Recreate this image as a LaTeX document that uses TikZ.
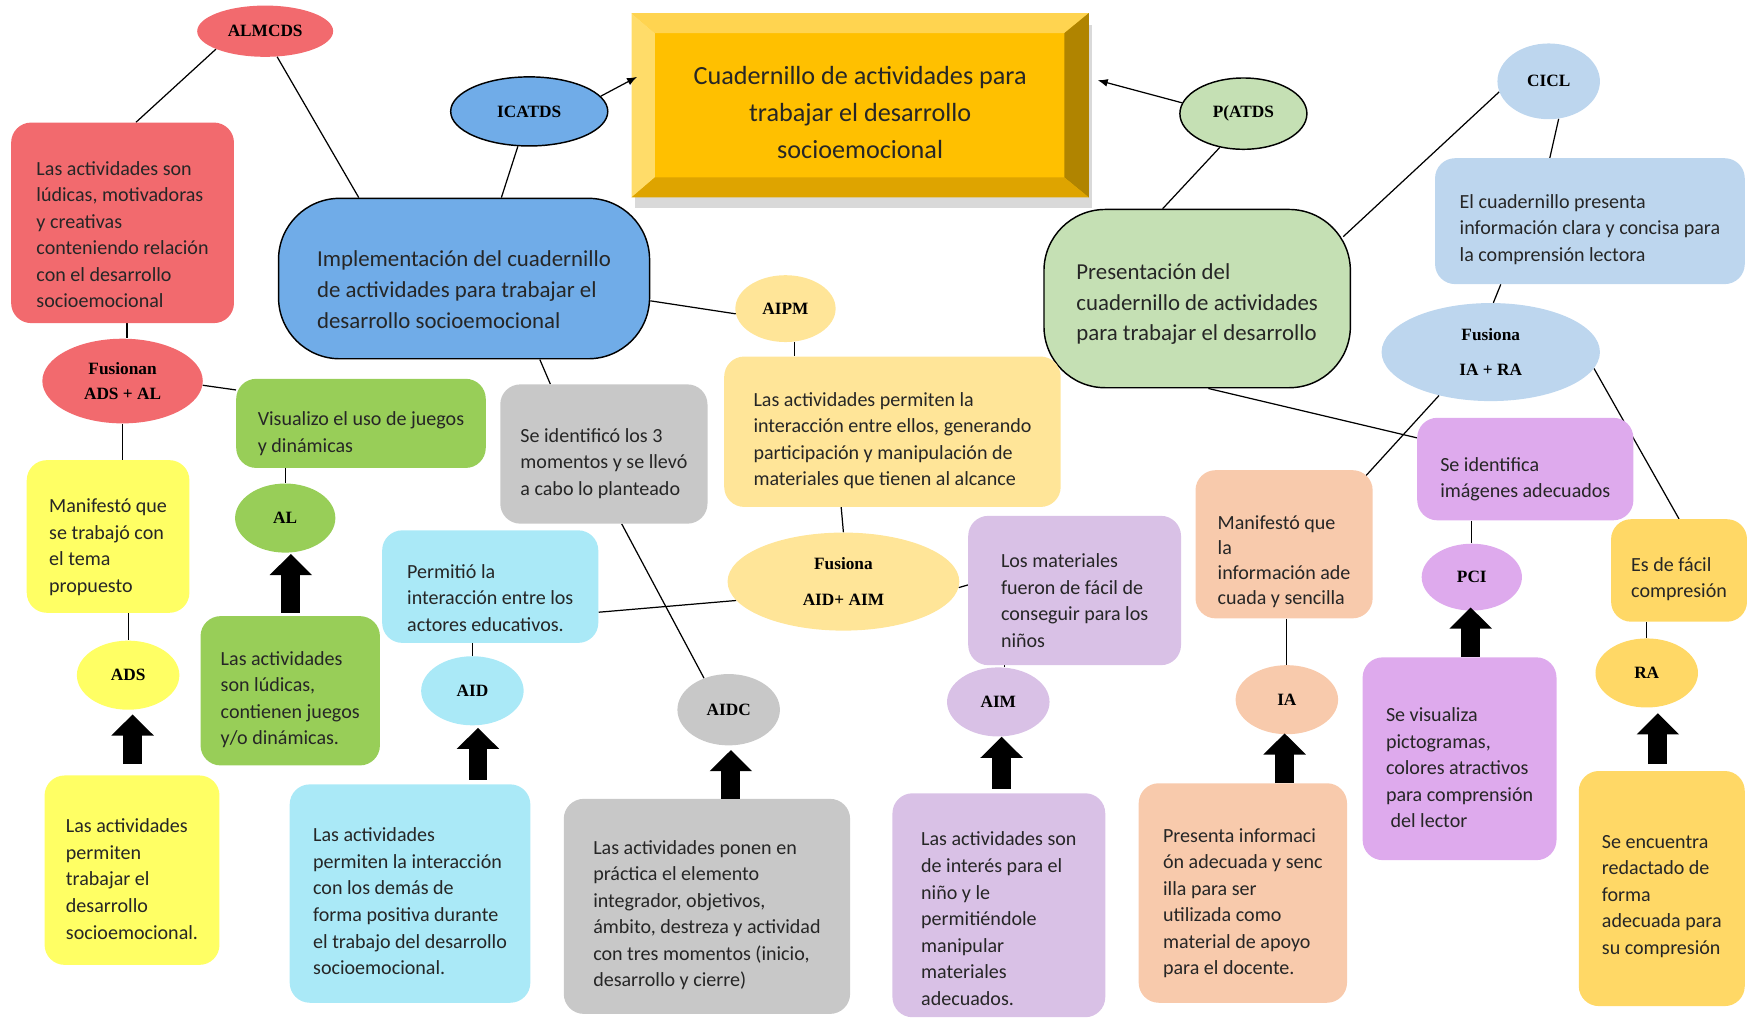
\documentclass[tikz,border=0pt]{standalone}
\usepackage{fontspec}
\setmainfont{Carlito}
\newfontfamily\lbl{Liberation Serif}
\usetikzlibrary{arrows.meta,shapes.geometric,shadows,calc}
\pgfdeclarelayer{bg}
\pgfsetlayers{bg,main}
\definecolor{cRed}{RGB}{242,106,110}
\definecolor{cBlue}{RGB}{112,172,232}
\definecolor{cGold}{RGB}{255,192,0}
\definecolor{bvTop}{RGB}{255,212,80}
\definecolor{bvLeft}{RGB}{255,220,105}
\definecolor{bvRight}{RGB}{176,132,0}
\definecolor{bvBot}{RGB}{222,164,0}
\definecolor{cGreenL}{RGB}{197,224,180}
\definecolor{cSky}{RGB}{189,214,238}
\definecolor{cCream}{RGB}{255,229,152}
\definecolor{cLime}{RGB}{152,206,88}
\definecolor{cGray}{RGB}{200,200,200}
\definecolor{cYel}{RGB}{255,255,100}
\definecolor{cCyan}{RGB}{170,233,247}
\definecolor{cLilac}{RGB}{217,193,230}
\definecolor{cPeach}{RGB}{248,202,172}
\definecolor{cViolet}{RGB}{222,170,237}
\definecolor{cSand}{RGB}{255,216,102}
\newcommand\tsu[1]{\rule{0pt}{#1pt}}
\begin{document}
\begin{tikzpicture}[x=1pt,y=-1pt,
  bx/.style={rectangle, rounded corners=18pt, inner sep=0pt, align=left,
    font=\fontsize{18}{23.8}\selectfont, text=black!85},
  term/.style={rectangle, rounded corners=55pt, draw=black, line width=1.3pt,
    inner sep=0pt, align=left, font=\fontsize{20.5}{27.5}\selectfont, text=black!85},
  ell/.style={ellipse, inner sep=0pt, align=center,
    font=\lbl\bfseries\fontsize{15.5}{18}\selectfont},
  con/.style={line width=1.1pt, black},
  pt/.style={con, -{Latex[length=9pt,width=7pt]}},
  blk/.style={line width=17pt, black, -{Triangle[length=19pt,width=37pt]}},
]
\useasboundingbox (0,0) rectangle (1568,915);

% main title box
\node[fill=cGold, minimum width=410, minimum height=165, inner sep=0pt, align=center,
  font=\fontsize{23.5}{33}\selectfont, text=black!85,
  drop shadow={shadow xshift=3pt, shadow yshift=-10pt, opacity=0.3}]
  (main) at (772,94.5) {\tsu{29.6}Cuadernillo de actividades para\\trabajar el desarrollo\\socioemocional};
\fill[bvTop] (main.north west) -- (main.north east) -- ($(main.north east)+(-22,18)$) -- ($(main.north west)+(21,18)$) -- cycle;
\fill[bvLeft] (main.north west) -- ($(main.north west)+(21,18)$) -- ($(main.south west)+(21,-18)$) -- (main.south west) -- cycle;
\fill[bvRight] (main.north east) -- (main.south east) -- ($(main.south east)+(-22,-18)$) -- ($(main.north east)+(-22,18)$) -- cycle;
\fill[bvBot] (main.south west) -- ($(main.south west)+(21,-18)$) -- ($(main.south east)+(-22,-18)$) -- (main.south east) -- cycle;

% big terminator boxes
\node[term, fill=cBlue, minimum width=333, minimum height=144] (blue) at (416.5,250)
  {\tsu{34.4}Implementación del cuadernillo\\de actividades para trabajar el\\desarrollo socioemocional};
\node[term, fill=cGreenL, minimum width=275, minimum height=160] (green) at (1074.5,268)
  {\tsu{24.4}Presentación del\\cuadernillo de actividades\\para trabajar el desarrollo};

% rounded boxes
\node[bx, fill=cRed, minimum width=200, minimum height=180] (red) at (110,200)
  {\tsu{33.5}Las actividades son\\lúdicas, motivadoras\\y creativas\\conteniendo relación\\con el desarrollo\\socioemocional};
\node[bx, fill=cSky, minimum width=278, minimum height=113] (lb) at (1427,198.5)
  {\tsu{27.5}El cuadernillo presenta\\información clara y concisa para\\la comprensión lectora};
\node[bx, fill=cCream, minimum width=302, minimum height=135] (cream) at (801,387.5)
  {\tsu{28.5}Las actividades permiten la\\interacción entre ellos, generando\\participación y manipulación de\\materiales que tienen al alcance};
\node[bx, fill=cLime, minimum width=224, minimum height=80] (vis) at (324,380)
  {\tsu{30.5}Visualizo el uso de juegos\\y dinámicas};
\node[bx, fill=cGray, minimum width=186, minimum height=125] (grayA) at (542,407.5)
  {\tsu{29.5}Se identificó los 3\\momentos y se llevó\\a cabo lo planteado};
\node[bx, fill=cYel, minimum width=146, minimum height=137] (yelA) at (97,481.5)
  {\tsu{31.5}Manifestó que\\se trabajó con\\el tema\\propuesto};
\node[bx, fill=cLime, minimum width=161, minimum height=134] (limeB) at (260.5,620)
  {\tsu{28.5}Las actividades\\son lúdicas,\\contienen juegos\\y/o dinámicas.};
\node[bx, fill=cCyan, minimum width=194, minimum height=101] (cyanA) at (440,526.5)
  {\tsu{32.5}Permitió la\\interacción entre los\\actores educativos.};
\node[bx, fill=cLilac, minimum width=191, minimum height=134] (lilacA) at (964.5,530)
  {\tsu{30.5}Los materiales\\fueron de fácil de\\conseguir para los\\niños};
\node[bx, fill=cPeach, minimum width=159, minimum height=133,
  font=\fontsize{18}{22.5}\selectfont] (peachA) at (1152.5,488.5)
  {\tsu{43.5}Manifestó que\\la\\información ade\\cuada y sencilla};
\node[bx, fill=cViolet, minimum width=194, minimum height=92] (vioA) at (1369,421)
  {\tsu{30.5}Se identifica\\imágenes adecuados};
\node[bx, fill=cSand, minimum width=122, minimum height=92] (sandA) at (1507,512)
  {\tsu{28.5}Es de fácil\\compresión};
\node[bx, fill=cYel, minimum width=157, minimum height=170] (yelB) at (118.5,781)
  {\tsu{28.5}Las actividades\\permiten\\trabajar el\\desarrollo\\socioemocional.};
\node[bx, fill=cCyan, minimum width=216, minimum height=196] (cyanB) at (368,802)
  {\tsu{26.5}Las actividades\\permiten la interacción\\con los demás de\\forma positiva durante\\el trabajo del desarrollo\\socioemocional.};
\node[bx, fill=cGray, minimum width=257, minimum height=193] (grayB) at (634.5,813.5)
  {\tsu{28.5}Las actividades ponen en\\práctica el elemento\\integrador, objetivos,\\ámbito, destreza y actividad\\con tres momentos (inicio,\\desarrollo y cierre)};
\node[bx, fill=cLilac, minimum width=191, minimum height=201] (lilacB) at (896.5,812.5)
  {\tsu{36.5}Las actividades son\\de interés para el\\niño y le\\permitiéndole\\manipular\\materiales\\adecuados.};
\node[bx, fill=cPeach, minimum width=187, minimum height=197] (peachB) at (1115.5,801.5)
  {\tsu{30.5}Presenta informaci\\ón adecuada y senc\\illa para ser\\utilizada como\\material de apoyo\\para el docente.};
\node[bx, fill=cViolet, minimum width=174, minimum height=182] (vioB) at (1310,681)
  {\tsu{28.5}Se visualiza\\pictogramas,\\colores atractivos\\para comprensión\\\ del lector};
\node[bx, fill=cSand, minimum width=149, minimum height=211] (sandB) at (1491.5,797.5)
  {\tsu{25.5}Se encuentra\\redactado de\\forma\\adecuada para\\su compresión};

% ellipses
\node[ell, fill=cRed, minimum width=122, minimum height=46] (almcds) at (238,28) {ALMCDS};
\node[ell, fill=cBlue, draw=black, line width=1.3pt, minimum width=141, minimum height=62] (icatds) at (475,100) {ICATDS};
\node[ell, fill=cGreenL, draw=black, line width=1.3pt, minimum width=114, minimum height=64] (patds) at (1116,102) {P(ATDS};
\node[ell, fill=cSky, minimum width=92, minimum height=68] (cicl) at (1390,73) {CICL};
\node[ell, fill=cSky, minimum width=196, minimum height=88, font=\lbl\bfseries\fontsize{15.5}{32}\selectfont] (fir) at (1338,316) {Fusiona\\IA + RA};
\node[ell, fill=cCream, minimum width=90, minimum height=60] (aipm) at (705,277) {AIPM};
\node[ell, fill=cRed, minimum width=144, minimum height=76, font=\lbl\bfseries\fontsize{15.5}{22}\selectfont] (fus) at (110,342) {Fusionan\\ADS + AL};
\node[ell, fill=cLime, minimum width=90, minimum height=62] (al) at (256,465) {AL};
\node[ell, fill=cYel, minimum width=92, minimum height=62] (ads) at (115,606) {ADS};
\node[ell, fill=cCyan, minimum width=92, minimum height=62] (aid) at (424,620) {AID};
\node[ell, fill=cGray, minimum width=92, minimum height=64] (aidc) at (654,637) {AIDC};
\node[ell, fill=cLilac, minimum width=92, minimum height=62] (aim) at (896,630) {AIM};
\node[ell, fill=cPeach, minimum width=92, minimum height=62] (ia) at (1155,628) {IA};
\node[ell, fill=cViolet, minimum width=90, minimum height=60] (pci) at (1321,518) {PCI};
\node[ell, fill=cSand, minimum width=92, minimum height=62] (ra) at (1478,604) {RA};
\node[ell, fill=cCream, minimum width=208, minimum height=88, font=\lbl\bfseries\fontsize{15.5}{32}\selectfont] (fusaa) at (757,522) {Fusiona\\AID+ AIM};

% thin connectors
\begin{pgfonlayer}{bg}
\draw[con] (almcds.200) -- ([xshift=12pt]red.north);
\draw[con] (almcds.-65) -- ([xshift=-94.5pt]blue.north);
\draw[con] (icatds.-108) -- ([xshift=33.5pt]blue.north);
\draw[con] ([yshift=-20pt]blue.east) -- (aipm.186);
\draw[con] ([xshift=68pt]blue.south) -- ([xshift=-48pt]grayA.north);
\draw[con] (patds.-125) -- ([xshift=-31pt]green.north);
\draw[con] ([xshift=-7pt,yshift=-25pt]green.north east) -- (cicl.192);
\draw[con] (cicl.-75) -- ([xshift=-36pt]lb.north);
\draw[con] ([xshift=-80pt]lb.south) -- (fir.87);
\draw[con] ([xshift=10pt]green.south) -- ([yshift=28pt]vioA.west);
\draw[con] (fir.-140) -- ([xshift=-7pt,yshift=-6pt]peachA.north east);
\draw[con] (fir.-9) -- (sandA.north);
\draw[con] (pci.north |- vioA.south) -- (pci.north);
\draw[con] (ia.north |- peachA.south) -- (ia.north);
\draw[con] (ra.north |- sandA.south) -- (ra.north);
\draw[con] ([xshift=4pt]fus.north |- red.south) -- ([xshift=4pt]fus.north);
\draw[con] (fus.-3) -- ([yshift=30pt]vis.west);
\draw[con] (fus.south) -- (fus.south |- yelA.north);
\draw[con] (ads.north |- yelA.south) -- (ads.north);
\draw[con] (al.north |- vis.south) -- (al.north);
\draw[con] (aipm.-75) -- (aipm.-75 |- cream.north);
\draw[con] ([xshift=-46pt]cream.south) -- (fusaa.north);
\draw[con] (fusaa.190) -- ([yshift=-23pt]cyanA.east);
\draw[con] (fusaa.-3) -- ([yshift=5pt]lilacA.west);
\draw[con] ([xshift=16pt]grayA.south) -- (aidc.128);
\draw[con] (aid.north |- cyanA.south) -- (aid.north);
\draw[con] (aim.80 |- lilacA.south) -- (aim.80);
\end{pgfonlayer}

% pointed connectors to the title
\draw[pt] (icatds.12) -- ([xshift=5pt,yshift=25.5pt]main.west);
\draw[pt] (patds.170) -- ([xshift=8pt,yshift=22.5pt]main.east);

% block arrows
\draw[blk] ($(ads.south |- yelB.north)+(4,-10)$) -- ($(ads.south)+(4,4)$);
\draw[blk] ($(al.south |- limeB.north)+(5,-3)$) -- ($(al.south)+(5,1)$);
\draw[blk] ($(aid.south |- cyanB.north)+(5,-4)$) -- ($(aid.south)+(5,2)$);
\draw[blk] ($(aidc.south |- grayB.north)+(2,0)$) -- ($(aidc.south)+(2,4)$);
\draw[blk] ($(aim.south |- lilacB.north)+(3,-4)$) -- ($(aim.south)+(3,0)$);
\draw[blk] ($(ia.south |- peachB.north)+(-2,0)$) -- ($(ia.south)+(-2,-1)$);
\draw[blk] ($(pci.south |- vioB.north)+(-1,0)$) -- ($(pci.south)+(-1,-3)$);
\draw[blk] ($(ra.south |- sandB.north)+(10,-6)$) -- ($(ra.south)+(10,5)$);
\end{tikzpicture}
\end{document}
